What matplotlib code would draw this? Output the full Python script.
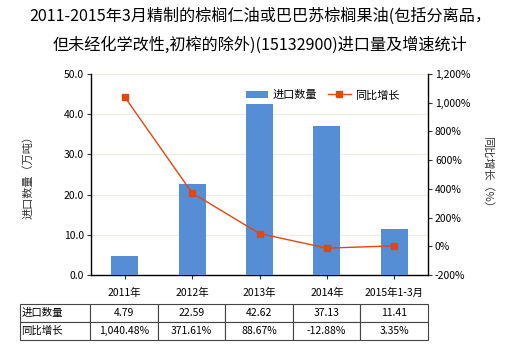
import matplotlib
matplotlib.use("Agg")
import matplotlib.pyplot as plt
import numpy as np

plt.rcParams['font.family'] = ['Noto Sans CJK SC', 'DejaVu Sans']

# datos
categorias = ['2011年', '2012年', '2013年', '2014年', '2015年1-3月']
cantidad = [4.79, 22.59, 42.62, 37.13, 11.41]
crecimiento = [1040.48, 371.61, 88.67, -12.88, 3.35]
cantidad_txt = ['4.79', '22.59', '42.62', '37.13', '11.41']
crecimiento_txt = ['1,040.48%', '371.61%', '88.67%', '-12.88%', '3.35%']

color_barra = '#558ED5'
color_linea = '#E2470F'

fig = plt.figure(figsize=(5.2, 3.5), dpi=100)
ax = fig.add_axes([91 / 520, 1 - 275 / 350, 337 / 520, 201 / 350])
ax2 = ax.twinx()

x = np.arange(len(categorias))
barras = ax.bar(x, cantidad, width=0.4, color=color_barra, zorder=3, label='进口数量')
linea, = ax2.plot(x, crecimiento, color=color_linea, lw=1, marker='s', ms=4.5,
                  label='同比增长', zorder=4)

ax.set_xlim(-0.5, len(categorias) - 0.5)
ax.set_ylim(0, 50)
ax.set_yticks(np.arange(0, 51, 10))
ax.set_yticklabels([f'{v:.1f}' for v in np.arange(0, 51, 10)])
ax2.set_ylim(-200, 1200)
ax2.set_yticks(np.arange(-200, 1201, 200))
ax2.set_yticklabels([f'{v:,}%' for v in range(-200, 1201, 200)])

ax.set_xticks(x)
ax.set_xticklabels(categorias)
ax.grid(axis='y', color='#EEEBE0', lw=0.8, zorder=0)

for a in (ax, ax2):
    a.tick_params(labelsize=7.5, length=3, width=0.8, color='#333333', pad=2)
    a.spines['top'].set_visible(False)
ax.tick_params(axis='x', pad=6)
for s in ('left', 'bottom'):
    ax.spines[s].set_linewidth(1)
ax.spines['right'].set_visible(False)
ax2.spines['left'].set_visible(False)
ax2.spines['bottom'].set_visible(False)
ax2.spines['right'].set_linewidth(1)

ax.set_ylabel('进口数量（万吨）', fontsize=8, color='#333333', labelpad=22)
ax2.set_ylabel('同比增长（%）', fontsize=8, color='#333333', rotation=-90, labelpad=16)

ax.legend([barras, linea], ['进口数量', '同比增长'], loc='upper left',
          bbox_to_anchor=(145 / 337, 0.97), ncol=2, frameon=False, fontsize=8,
          handlelength=2.0, handletextpad=0.4, columnspacing=1.0)

fig.text(0.5, 1 - 16 / 350, '2011-2015年3月精制的棕榈仁油或巴巴苏棕榈果油(包括分离品，',
         ha='center', va='center', fontsize=11.6)
fig.text(0.5, 1 - 45 / 350, '但未经化学改性,初榨的除外)(15132900)进口量及增速统计',
         ha='center', va='center', fontsize=11.6)

# tabla inferior
axt = fig.add_axes([20 / 520, 1 - 340 / 350, 408 / 520, 36 / 350])
axt.axis('off')
filas = [['进口数量'] + cantidad_txt, ['同比增长'] + crecimiento_txt]
w0 = 70 / 408
anchos = [w0] + [(1 - w0) / 5] * 5
tabla = axt.table(cellText=filas, colWidths=anchos, bbox=[0, 0, 1, 1], cellLoc='center')
tabla.auto_set_font_size(False)
tabla.set_fontsize(7.5)
for (r, c), celda in tabla.get_celld().items():
    celda.set_edgecolor('#444444')
    celda.set_linewidth(0.8)
    if c == 0:
        celda.set_text_props(ha='left')
        celda.PAD = 0.02

fig.savefig('out.png', dpi=100)
